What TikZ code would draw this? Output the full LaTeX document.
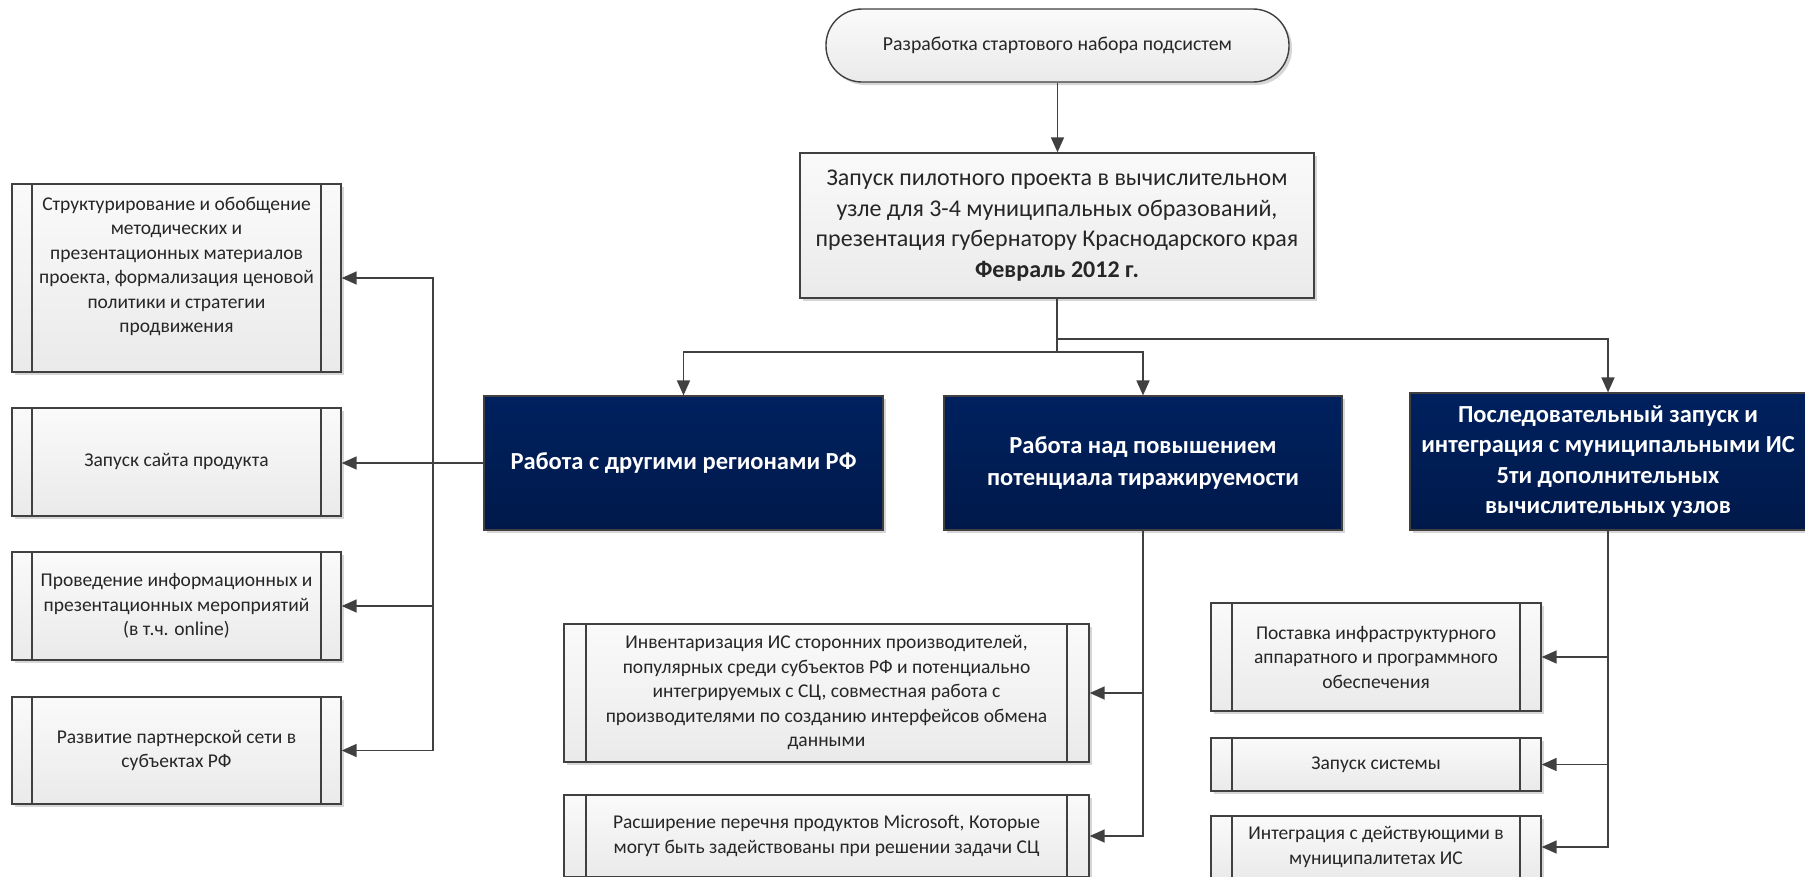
\documentclass[tikz,border=0pt]{standalone}
\usepackage{fontspec}
\setmainfont{Carlito}
\usetikzlibrary{arrows.meta,shadows}

\definecolor{edge}{HTML}{404040}
\definecolor{ink}{HTML}{262626}
\definecolor{navytop}{HTML}{00215F}
\definecolor{navybot}{HTML}{00194A}
\definecolor{paper}{HTML}{FAFAFA}
\definecolor{paperlow}{HTML}{EAEAEA}

\tikzset{
  boxshadow/.style={drop shadow={shadow xshift=3pt, shadow yshift=-3pt, fill=black, opacity=.16}},
  lightbox/.style={draw=edge, line width=1.4pt, top color=paper, bottom color=paperlow,
    text=ink, align=center, inner sep=0pt, boxshadow},
  procbox/.style={lightbox, font=\fontsize{19.5}{24.5}\selectfont,
    path picture={\draw[edge, line width=1.4pt]
      ([xshift=#1]path picture bounding box.north west) -- ([xshift=#1]path picture bounding box.south west)
      ([xshift=-#1]path picture bounding box.north east) -- ([xshift=-#1]path picture bounding box.south east);}},
  procbox/.default=21pt,
  darkbox/.style={draw=edge, line width=1.2pt, top color=navytop, bottom color=navybot,
    text=white, align=center, inner sep=0pt, boxshadow},
  wire/.style={draw=edge, line width=1.7pt},
  arrow/.style={wire, -{Triangle[length=15pt,width=13pt]}},
}

\begin{document}
\begin{tikzpicture}[x=1pt,y=-1pt]
\useasboundingbox (0,0) rectangle (1805,876);
\clip (0,0) rectangle (1805,876);

% start and pilot stage
\node[lightbox, rounded corners=36pt, minimum width=463pt, minimum height=73pt,
      font=\fontsize{19.8}{24}\selectfont] (term) at (1057.5,45.5)
  {Разработка стартового набора подсистем};
\node[lightbox, minimum width=514pt, minimum height=145pt,
      font=\fontsize{24}{30.5}\selectfont] (pilot) at (1057,225.5)
  {Запуск пилотного проекта в вычислительном\\
   узле для 3-4 муниципальных образований,\\
   презентация губернатору Краснодарского края\\
   \textbf{Февраль 2012 г.}};

% three directions
\node[darkbox, minimum width=399pt, minimum height=134pt,
      font=\bfseries\fontsize{24.5}{31}\selectfont] (A) at (683.5,463)
  {Работа с другими регионами РФ};
\node[darkbox, minimum width=398pt, minimum height=134pt,
      font=\bfseries\fontsize{24.5}{31.5}\selectfont] (B) at (1143,463)
  {Работа над повышением\\потенциала тиражируемости};
\node[darkbox, minimum width=396pt, minimum height=137pt,
      font=\bfseries\fontsize{24.5}{30.5}\selectfont] (C) at (1608,461.5)
  {Последовательный запуск и\\интеграция с муниципальными ИС\\5ти дополнительных\\вычислительных узлов};

% left column
\node[procbox=20pt, minimum width=329pt, minimum height=188pt, text depth=26pt] (L1) at (176.5,278)
  {Структурирование и обобщение\\методических и\\презентационных материалов\\проекта, формализация ценовой\\политики и стратегии\\продвижения};
\node[procbox=20pt, minimum width=329pt, minimum height=108pt] (L2) at (176.5,462)
  {Запуск сайта продукта};
\node[procbox=20pt, minimum width=329pt, minimum height=108pt] (L3) at (176.5,606)
  {Проведение информационных и\\презентационных мероприятий\\(в т.ч. online)};
\node[procbox=20pt, minimum width=329pt, minimum height=107pt] (L4) at (176.5,750.5)
  {Развитие партнерской сети в\\субъектах РФ};

% middle column
\node[procbox=22pt, minimum width=525pt, minimum height=138pt] (M1) at (826.5,693)
  {Инвентаризация ИС сторонних производителей,\\популярных среди субъектов РФ и потенциально\\интегрируемых с СЦ, совместная работа с\\производителями по созданию интерфейсов обмена\\данными};
\node[procbox=22pt, minimum width=525pt, minimum height=82pt] (M2) at (826.5,836)
  {Расширение перечня продуктов Microsoft, Которые\\могут быть задействованы при решении задачи СЦ};

% right column
\node[procbox=21pt, minimum width=330pt, minimum height=108pt] (R1) at (1376,657)
  {Поставка инфраструктурного\\аппаратного и программного\\обеспечения};
\node[procbox=21pt, minimum width=330pt, minimum height=53pt] (R2) at (1376,764.5)
  {Запуск системы};
\node[procbox=21pt, minimum width=330pt, minimum height=62pt] (R3) at (1376,847)
  {Интеграция с действующими в\\муниципалитетах ИС};

% connectors
\draw[arrow] (term.south) -- (term.south |- pilot.north);
\coordinate (split) at (1057,352);
\coordinate (splitC) at (1057,339);
\draw[wire] (pilot.south) -- (split);
\draw[arrow] (split) -| (A.north);
\draw[arrow] (split) -| (B.north);
\draw[arrow] (splitC) -| (C.north);

\coordinate (ltrunk) at (433,463);
\draw[arrow] (A.west) -- (A.west -| L2.east);
\draw[arrow] (ltrunk) |- (L1.east);
\draw[arrow] (ltrunk) |- (L3.east);
\draw[arrow] (ltrunk) |- (L4.east);

\draw[arrow] (B.south) |- (M2.east);
\draw[arrow] (B.south |- M1.east) -- (M1.east);

\draw[arrow] (C.south) |- (R3.east);
\draw[arrow] (C.south |- R1.east) -- (R1.east);
\draw[arrow] (C.south |- R2.east) -- (R2.east);
\end{tikzpicture}
\end{document}
